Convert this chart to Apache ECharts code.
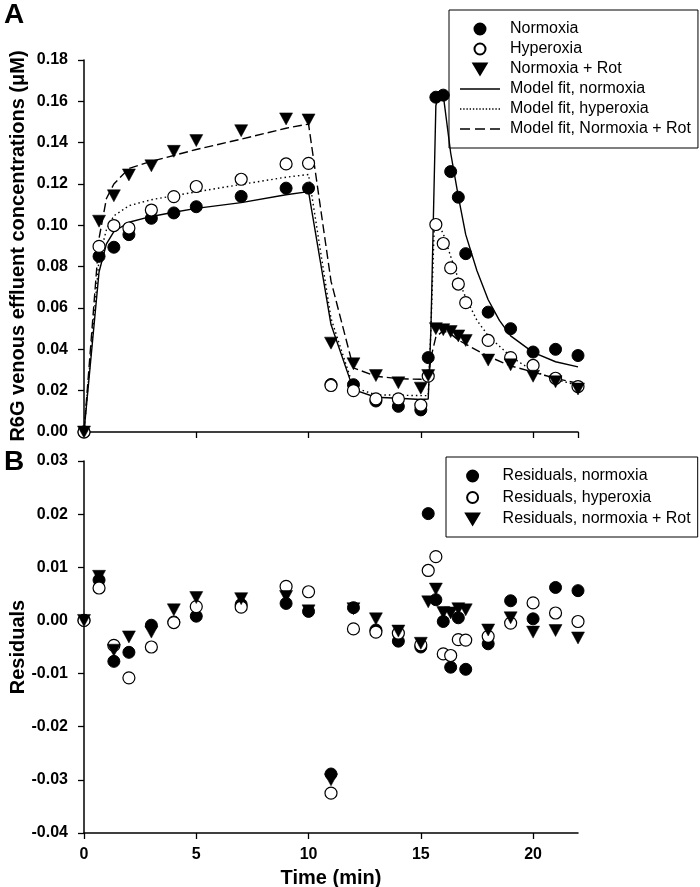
<!DOCTYPE html>
<html>
<head>
<meta charset="utf-8">
<script src="https://cdn.jsdelivr.net/npm/echarts@6/dist/echarts.min.js"></script>
<style>html,body{margin:0;padding:0;background:#fff;}#c{width:700px;height:887px;}</style>
</head>
<body>
<div id="c"></div>
<script>
// Sample times (min)
const T = [0, 0.67, 1.33, 2, 3, 4, 5, 7, 9, 10, 11, 12, 13, 14, 15, 15.33, 15.67, 16, 16.33, 16.67, 17, 18, 19, 20, 21, 22];
// Panel A: measured concentrations (uM)
const normoxia  = [0, 0.085, 0.0894, 0.0955, 0.1034, 0.106, 0.109, 0.114, 0.118, 0.118, 0.023, 0.0229, 0.015, 0.0124, 0.0107, 0.036, 0.162, 0.163, 0.126, 0.1136, 0.0863, 0.058, 0.050, 0.0387, 0.040, 0.037];
const hyperoxia = [0, 0.0898, 0.0999, 0.0987, 0.1074, 0.1139, 0.1188, 0.1223, 0.1297, 0.130, 0.0225, 0.020, 0.016, 0.016, 0.013, 0.027, 0.1004, 0.0912, 0.0794, 0.0716, 0.0626, 0.0443, 0.036, 0.0322, 0.026, 0.022];
const normoxiaRot = [0, 0.102, 0.1143, 0.1244, 0.1288, 0.1358, 0.141, 0.1458, 0.1515, 0.151, 0.043, 0.033, 0.0273, 0.0238, 0.0212, 0.0273, 0.050, 0.0495, 0.0486, 0.0465, 0.0443, 0.0348, 0.0325, 0.027, 0.0243, 0.0208];
// Panel A: model fits
const fitNormT = [0, 0.67, 1.0, 1.33, 2, 3, 4, 5, 7, 9, 10, 11, 12, 13, 14, 15, 15.33, 15.45, 15.67, 15.85, 16, 16.33, 16.67, 17, 17.5, 18, 18.5, 19, 20, 21, 22];
const fitNorm  = [0, 0.0774, 0.091, 0.097, 0.1015, 0.1043, 0.1063, 0.1082, 0.111, 0.1148, 0.1163, 0.052, 0.0205, 0.0168, 0.0163, 0.0157, 0.016, 0.05, 0.158, 0.165, 0.163, 0.135, 0.114, 0.0955, 0.078, 0.064, 0.054, 0.0465, 0.0385, 0.034, 0.0315];
const fitHyperT = [0, 0.67, 1.0, 1.33, 2, 3, 4, 5, 7, 9, 10, 11, 12, 13, 14, 15, 15.33, 15.45, 15.6, 15.8, 16, 16.33, 16.67, 17, 17.5, 18, 19, 20, 21, 22];
const fitHyper  = [0, 0.0837, 0.098, 0.1046, 0.1095, 0.1124, 0.1143, 0.1162, 0.1198, 0.1233, 0.1246, 0.055, 0.0216, 0.018, 0.0178, 0.0176, 0.0176, 0.05, 0.100, 0.100, 0.096, 0.085, 0.074, 0.065, 0.054, 0.0466, 0.0365, 0.0295, 0.0255, 0.0225];
const fitRotT = [0, 0.67, 1.0, 1.33, 2, 3, 4, 5, 7, 9, 10, 11, 12, 13, 14, 15, 15.33, 15.45, 15.67, 16, 16.33, 16.67, 17, 18, 19, 20, 21, 22];
const fitRot  = [0, 0.0937, 0.113, 0.12, 0.1275, 0.131, 0.1338, 0.1367, 0.1417, 0.147, 0.149, 0.073, 0.031, 0.027, 0.0258, 0.0255, 0.0245, 0.036, 0.046, 0.049, 0.0475, 0.0445, 0.0425, 0.0366, 0.032, 0.029, 0.026, 0.0235];
// Panel B: residuals
const resNorm  = [0, 0.0076, -0.0077, -0.006, -0.0009, -0.0003, 0.0008, 0.003, 0.0032, 0.0017, -0.0289, 0.0024, -0.0018, -0.0039, -0.005, 0.0201, 0.0039, -0.0002, -0.0088, 0.0005, -0.0092, -0.0044, 0.0037, 0.0003, 0.0062, 0.0056];
const resHyper = [0, 0.0061, -0.0047, -0.0108, -0.005, -0.0004, 0.0026, 0.0025, 0.0064, 0.0054, -0.0325, -0.0016, -0.0022, -0.0024, -0.0046, 0.0094, 0.012, -0.0063, -0.0066, -0.0036, -0.0037, -0.003, -0.0005, 0.0033, 0.0014, -0.0002];
const resRot   = [0, 0.0083, -0.0056, -0.0031, -0.0022, 0.002, 0.0043, 0.0041, 0.0045, 0.0018, -0.030, 0.0022, 0.0003, -0.002, -0.0043, 0.0035, 0.0059, 0.0015, 0.0014, 0.0022, 0.002, -0.0018, 0.0005, -0.0022, -0.0019, -0.0033];

const legendA = ['Normoxia', 'Hyperoxia', 'Normoxia + Rot', 'Model fit, normoxia', 'Model fit, hyperoxia', 'Model fit, Normoxia + Rot'];
const legendB = ['Residuals, normoxia', 'Residuals, hyperoxia', 'Residuals, normoxia + Rot'];
const yTicksA = {min: 0, max: 0.18, interval: 0.02};
const yTicksB = {min: -0.04, max: 0.03, interval: 0.01};
const xTicks = {min: 0, max: 22, interval: 5};

const pairs = (xs, ys) => xs.map((x, i) => [x, ys[i]]);
const FONT = 'Liberation Sans';

// legend icon shapes
const ICON_TRI = 'path://M0,0L12,0L6,10Z';
const ICON_SOLID = 'path://M0,0H40V1.5H0Z';
const ICON_DASH = 'path://M0,0H10V1.5H0Z M15,0H25V1.5H15Z M30,0H40V1.5H30Z';
let dots = '';
for (let k = 0; k <= 38; k += 3) dots += 'M' + k + ',0H' + (k + 1.3) + 'V1.3H' + k + 'Z ';
const ICON_DOT = 'path://' + dots;

const filled = {symbol: 'circle', symbolSize: 12, itemStyle: {color: '#000', borderColor: '#000', borderWidth: 1, opacity: 1}};
const open = {symbol: 'circle', symbolSize: 12, itemStyle: {color: '#fff', borderColor: '#000', borderWidth: 1.2, opacity: 1}};
const tri = {symbol: 'triangle', symbolRotate: 180, symbolSize: [13, 12], itemStyle: {color: '#000', borderColor: '#000', borderWidth: 0.5, opacity: 1}};

function sc(name, style, data, idx) {
  return Object.assign({type: 'scatter', name: name, xAxisIndex: idx, yAxisIndex: idx, data: data, clip: false, z: 3, emphasis: {disabled: true}}, JSON.parse(JSON.stringify(style)));
}
function ln(name, type, dash, data) {
  return {type: 'line', name: name, xAxisIndex: 0, yAxisIndex: 0, data: data, symbol: 'none', smooth: false, z: 2,
    lineStyle: {color: '#000', width: 1.4, type: dash || type}, itemStyle: {color: '#000'}, emphasis: {disabled: true}};
}

const axisCommon = {
  axisLine: {show: true, onZero: false, lineStyle: {color: '#000', width: 1.5}},
  axisTick: {show: true, length: 6, lineStyle: {color: '#000', width: 1.3}},
  splitLine: {show: false},
  axisLabel: {color: '#000', fontFamily: FONT, fontWeight: 'bold', fontSize: 16}
};
const nameStyle = {color: '#000', fontFamily: FONT, fontWeight: 'bold', fontSize: 20};

const chart = echarts.init(document.getElementById('c'), null, {renderer: 'canvas'});
chart.setOption({
  animation: false,
  backgroundColor: '#fff',
  grid: [
    {left: 84, width: 494, top: 60, height: 372, outerBoundsMode: 'none', containLabel: false},
    {left: 84, width: 494, top: 461, height: 372, outerBoundsMode: 'none', containLabel: false}
  ],
  xAxis: [
    Object.assign({}, axisCommon, {type: 'value', gridIndex: 0, min: xTicks.min, max: xTicks.max, interval: xTicks.interval,
      axisLabel: {show: false}}),
    Object.assign({}, axisCommon, {type: 'value', gridIndex: 1, min: xTicks.min, max: xTicks.max, interval: xTicks.interval,
      axisLabel: Object.assign({}, axisCommon.axisLabel, {margin: 14, showMaxLabel: false}),
      name: 'Time (min)', nameLocation: 'middle', nameGap: 35, nameMoveOverlap: false, nameTextStyle: nameStyle})
  ],
  yAxis: [
    Object.assign({}, axisCommon, {type: 'value', gridIndex: 0, min: yTicksA.min, max: yTicksA.max, interval: yTicksA.interval,
      axisLabel: Object.assign({}, axisCommon.axisLabel, {margin: 16, formatter: v => v.toFixed(2)}),
      name: 'R6G venous effluent concentrations (\u03bcM)', nameLocation: 'middle', nameGap: 56, nameMoveOverlap: false, nameTextStyle: nameStyle}),
    Object.assign({}, axisCommon, {type: 'value', gridIndex: 1, min: yTicksB.min, max: yTicksB.max, interval: yTicksB.interval,
      axisLabel: Object.assign({}, axisCommon.axisLabel, {margin: 16, formatter: v => (Math.abs(v) < 1e-9 ? 0 : v).toFixed(2)}),
      name: 'Residuals', nameLocation: 'middle', nameGap: 56, nameMoveOverlap: false, nameTextStyle: nameStyle})
  ],
  legend: [
    {data: [
        {name: legendA[0], icon: 'circle'}, {name: legendA[1], icon: 'circle'}, {name: legendA[2], icon: ICON_TRI},
        {name: legendA[3], icon: ICON_SOLID}, {name: legendA[4], icon: ICON_DOT}, {name: legendA[5], icon: ICON_DASH}],
      orient: 'vertical', left: 449, top: 10, selectedMode: false,
      itemWidth: 40, itemHeight: 11, itemGap: 4,
      padding: [11, 7, 11, 11], borderColor: '#000', borderWidth: 1,
      textStyle: {color: '#000', fontFamily: FONT, fontSize: 16, padding: [0, 0, 0, 5]}},
    {data: [
        {name: legendB[0], icon: 'circle'}, {name: legendB[1], icon: 'circle'}, {name: legendB[2], icon: ICON_TRI}],
      orient: 'vertical', left: 446, top: 457, selectedMode: false,
      itemWidth: 40, itemHeight: 11, itemGap: 5.5,
      padding: [11, 7, 10, 19], borderColor: '#000', borderWidth: 1,
      textStyle: {color: '#000', fontFamily: FONT, fontSize: 16, padding: [0, 0, 0, 5]}}
  ],
  graphic: [
    {type: 'text', left: 4, top: 1, style: {text: 'A', font: 'bold 28px "Liberation Sans"', fill: '#000'}},
    {type: 'text', left: 4, top: 448, style: {text: 'B', font: 'bold 28px "Liberation Sans"', fill: '#000'}}
  ],
  series: [
    ln(legendA[3], 'solid', null, pairs(fitNormT, fitNorm)),
    ln(legendA[4], 'dotted', [1.5, 3], pairs(fitHyperT, fitHyper)),
    ln(legendA[5], 'dashed', [9, 4], pairs(fitRotT, fitRot)),
    sc(legendA[0], filled, pairs(T, normoxia), 0),
    sc(legendA[1], open, pairs(T, hyperoxia), 0),
    sc(legendA[2], tri, pairs(T, normoxiaRot), 0),
    sc(legendB[0], filled, pairs(T, resNorm), 1),
    sc(legendB[1], open, pairs(T, resHyper), 1),
    sc(legendB[2], tri, pairs(T, resRot), 1)
  ]
});
</script>
</body>
</html>
